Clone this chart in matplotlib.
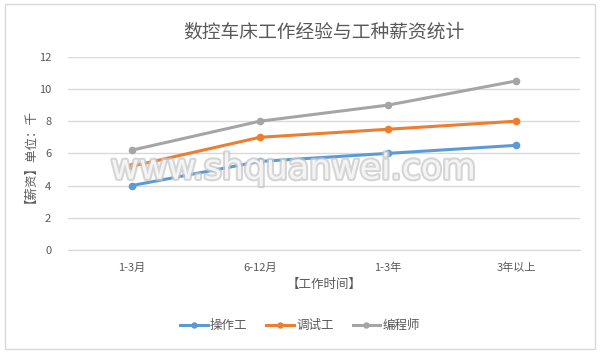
import matplotlib.pyplot as plt
import matplotlib.patheffects as pe
from matplotlib.patches import Rectangle

plt.rcParams['font.family'] = ['Noto Sans CJK SC', 'DejaVu Sans']

# data
categories = ['1-3月', '6-12月', '1-3年', '3年以上']
operator = [4.0, 5.5, 6.0, 6.5]      # 操作工
debugger = [5.2, 7.0, 7.5, 8.0]      # 调试工
programmer = [6.2, 8.0, 9.0, 10.5]   # 编程师
series_names = ['操作工', '调试工', '编程师']
colors = ['#5B9BD5', '#ED7D31', '#A5A5A5']
txt = '#595959'

fig = plt.figure(figsize=(6, 3.53), dpi=100)
fig.patches.append(Rectangle((0.008, 0.012), 0.984, 0.976, transform=fig.transFigure,
                             fill=False, edgecolor='#D9D9D9', linewidth=1))
ax = fig.add_axes([0.113, 0.292, 0.854, 0.547])

x = range(len(categories))
for vals, name, c in zip([operator, debugger, programmer], series_names, colors):
    ax.plot(x, vals, color=c, linewidth=2.2, marker='o', markersize=4.5, label=name, zorder=3)

ax.set_xlim(-0.5, len(categories) - 0.5)
ax.set_ylim(0, 12)
ax.set_yticks(range(0, 13, 2))
ax.set_xticks(list(x))
ax.set_xticklabels(categories)
ax.grid(axis='y', color='#D9D9D9', linewidth=1)
ax.set_axisbelow(True)
for s in ['top', 'right', 'left']:
    ax.spines[s].set_visible(False)
ax.spines['bottom'].set_color('#D9D9D9')
ax.tick_params(length=0, colors=txt, labelsize=8, pad=9)
ax.tick_params(axis='y', pad=12)

ax.set_xlabel('【工作时间】', color=txt, fontsize=9, labelpad=4)
ax.set_ylabel('【薪资】单位：千', color=txt, fontsize=9, labelpad=6)
ax.set_title('数控车床工作经验与工种薪资统计', color=txt, fontsize=13.5, fontweight='medium', pad=14)

leg = fig.legend(loc='center', bbox_to_anchor=(0.5, 0.077), ncol=3, frameon=False,
                 fontsize=9, handlelength=2.2, columnspacing=1.5, handletextpad=0.2,
                 markerscale=0.8)
for t in leg.get_texts():
    t.set_color(txt)

# watermark
ax.text(0.44, 0.42, 'www.shquanwei.com', transform=ax.transAxes, ha='center', va='center',
        fontsize=25, family='DejaVu Sans', color='white', alpha=0.75, zorder=4,
        path_effects=[pe.withStroke(linewidth=3, foreground='#C8C8C8')])

fig.savefig('out.png', dpi=100)
